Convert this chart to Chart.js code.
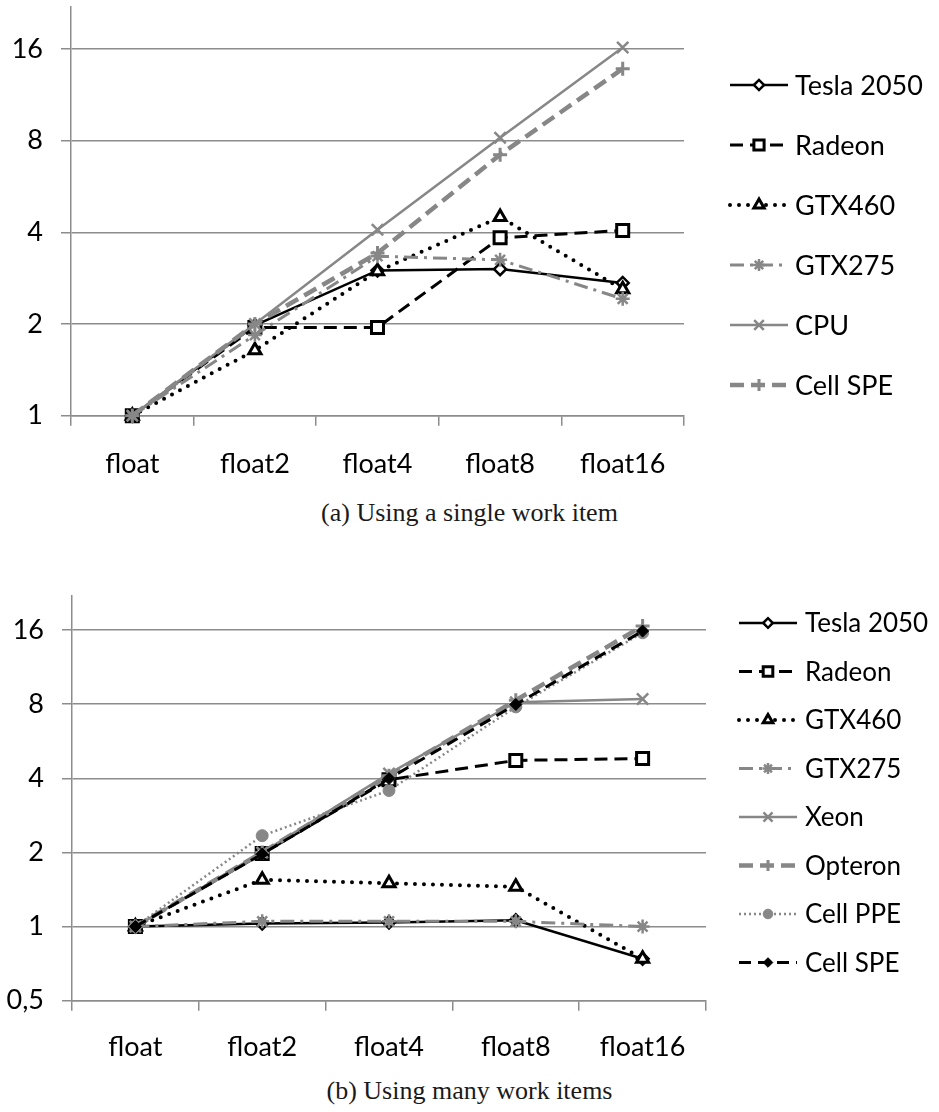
<!DOCTYPE html>
<html>
<head>
<meta charset="utf-8">
<script src="https://cdn.jsdelivr.net/npm/chart.js@4.4.1/dist/chart.umd.min.js"></script>
<style>
  html, body { margin: 0; padding: 0; background: #ffffff; }
  body { width: 939px; height: 1112px; position: relative; overflow: hidden; }
  canvas { position: absolute; left: 0; }
  #chartA { top: 0; }
  #chartB { top: 560px; }
  .caption {
    position: absolute; left: 0; width: 939px; text-align: center;
    font-family: "Liberation Serif", "DejaVu Serif", serif; font-size: 26px;
    color: #1a1a1a; line-height: 30px;
  }
  #capA { top: 498px; }
  #capB { top: 1076px; }
</style>
</head>
<body>
<canvas id="chartA" width="939" height="490"></canvas>
<div class="caption" id="capA">(a) Using a single work item</div>
<canvas id="chartB" width="939" height="510"></canvas>
<div class="caption" id="capB">(b) Using many work items</div>
<script>
// Vector widths on the x axis
const categories = ['float', 'float2', 'float4', 'float8', 'float16'];

// (a) speedup with a single work item
const seriesA = ['Tesla 2050', 'Radeon', 'GTX460', 'GTX275', 'CPU', 'Cell SPE'];
const teslaA   = [1, 1.98, 3.00, 3.03, 2.73];
const radeonA  = [1, 1.95, 1.95, 3.84, 4.06];
const gtx460A  = [1, 1.64, 2.98, 4.49, 2.60];
const gtx275A  = [1, 1.84, 3.34, 3.25, 2.42];
const cpuA     = [1, 2.00, 4.08, 8.18, 16.2];
const cellSpeA = [1, 2.00, 3.42, 7.20, 13.8];

// (b) speedup with many work items
const seriesB = ['Tesla 2050', 'Radeon', 'GTX460', 'GTX275', 'Xeon', 'Opteron', 'Cell PPE', 'Cell SPE'];
const teslaB   = [1, 1.03, 1.04, 1.06, 0.74];
const radeonB  = [1, 1.98, 3.95, 4.73, 4.81];
const gtx460B  = [1, 1.55, 1.50, 1.45, 0.74];
const gtx275B  = [1, 1.05, 1.05, 1.05, 1.00];
const xeonB    = [1, 2.00, 4.18, 8.15, 8.40];
const opteronB = [1, 2.00, 4.10, 8.30, 16.6];
const cellPpeB = [1, 2.34, 3.57, 7.80, 15.6];
const cellSpeB = [1, 1.97, 3.99, 7.98, 15.85];

// Log2 axis ticks
const ticksA = [1, 2, 4, 8, 16];
const tickLabelsA = ['1', '2', '4', '8', '16'];
const ticksB = [0.5, 1, 2, 4, 8, 16];
const tickLabelsB = ['0,5', '1', '2', '4', '8', '16'];

const BLACK = '#000000';
const GRAY = '#878787';
const GRID = '#8c8c8c';
const FONT = 'Lato, "Open Sans", sans-serif';

// Line / marker look per series
const styles = {
  'Tesla 2050': { color: BLACK, width: 2.5, dash: [], cap: 'butt', point: 'rectRot', r: 6, pbw: 2.5, fill: '#ffffff', pcolor: BLACK },
  'Radeon':     { color: BLACK, width: 3, dash: [13, 7], cap: 'butt', point: 'rect', r: 8.5, pbw: 3, fill: '#ffffff', pcolor: BLACK },
  'GTX460':     { color: BLACK, width: 4, dash: [0, 9], cap: 'round', point: 'triangle', r: 7, pbw: 3, fill: '#ffffff', pcolor: BLACK },
  'GTX275':     { color: GRAY, width: 3, dash: [14, 6, 3, 6], cap: 'butt', point: 'star', r: 7, pbw: 2.5, fill: GRAY, pcolor: GRAY },
  'CPU':        { color: GRAY, width: 2.5, dash: [], cap: 'butt', point: 'crossRot', r: 8, pbw: 2.5, fill: GRAY, pcolor: GRAY },
  'Xeon':       { color: GRAY, width: 2.5, dash: [], cap: 'butt', point: 'crossRot', r: 8, pbw: 2.5, fill: GRAY, pcolor: GRAY },
  'Opteron':    { color: GRAY, width: 4.5, dash: [14, 7], cap: 'butt', point: 'cross', r: 7, pbw: 3, fill: GRAY, pcolor: GRAY },
  'Cell SPE a': { color: GRAY, width: 4.5, dash: [14, 7], cap: 'butt', point: 'cross', r: 7, pbw: 3, fill: GRAY, pcolor: GRAY },
  'Cell PPE':   { color: GRAY, width: 2.5, dash: [2, 3], cap: 'butt', point: 'circle', r: 6, pbw: 1, fill: GRAY, pcolor: GRAY },
  'Cell SPE b': { color: BLACK, width: 3, dash: [12, 7], cap: 'butt', point: 'rectRot', r: 6, pbw: 1, fill: BLACK, pcolor: BLACK }
};

function makeDataset(label, data, styleKey, idx, count) {
  const s = styles[styleKey];
  return {
    label: label,
    data: data,
    borderColor: s.color,
    borderWidth: s.width,
    borderDash: s.dash,
    borderCapStyle: s.cap,
    tension: 0,
    fill: false,
    pointStyle: s.point,
    pointRadius: s.r,
    pointBorderWidth: s.pbw,
    pointBorderColor: s.pcolor,
    pointBackgroundColor: s.fill,
    order: count - idx,
    clip: false
  };
}

// Legend drawn beside the plot: line sample with its marker, then the name
function legendPlugin(cfg) {
  return {
    id: 'sideLegend',
    afterDraw(chart) {
      const ctx = chart.ctx;
      chart.data.datasets.forEach((ds, i) => {
        const y = cfg.top + i * cfg.step;
        ctx.save();
        ctx.strokeStyle = ds.borderColor;
        ctx.lineWidth = ds.borderWidth;
        ctx.lineCap = ds.borderCapStyle;
        ctx.setLineDash(ds.borderDash);
        ctx.beginPath();
        ctx.moveTo(cfg.x0, y);
        ctx.lineTo(cfg.x1, y);
        ctx.stroke();
        ctx.setLineDash([]);
        if (Chart.helpers && Chart.helpers.drawPoint) {
          ctx.strokeStyle = ds.pointBorderColor;
          ctx.fillStyle = ds.pointBackgroundColor;
          ctx.lineWidth = ds.pointBorderWidth;
          ctx.lineCap = 'butt';
          Chart.helpers.drawPoint(ctx, {
            pointStyle: ds.pointStyle,
            radius: ds.pointRadius * cfg.markScale,
            rotation: 0,
            borderWidth: ds.pointBorderWidth
          }, (cfg.x0 + cfg.x1) / 2, y);
        }
        ctx.fillStyle = '#000000';
        ctx.font = cfg.fontSize + 'px ' + FONT;
        ctx.textBaseline = 'middle';
        ctx.textAlign = 'left';
        ctx.fillText(ds.label, cfg.tx, y + 1);
        ctx.restore();
      });
    }
  };
}

function buildChart(canvasId, datasets, ticks, tickLabels, yMin, geo, legendCfg) {
  return new Chart(document.getElementById(canvasId), {
    type: 'line',
    data: { labels: categories, datasets: datasets },
    options: {
      responsive: false,
      animation: false,
      events: [],
      layout: { autoPadding: false, padding: { left: 0, right: geo.right, top: geo.top, bottom: 0 } },
      plugins: { legend: { display: false }, tooltip: { enabled: false } },
      scales: {
        x: {
          type: 'category',
          offset: true,
          grid: { offset: true, drawOnChartArea: false, drawTicks: true, tickLength: 10, color: GRID, lineWidth: 1.5 },
          border: { color: GRID, width: 1.5 },
          ticks: { color: '#000000', font: { family: FONT, size: 27 }, padding: geo.xPad, maxRotation: 0, autoSkip: false },
          afterFit(scale) {
            scale.height = geo.xHeight;
            scale.paddingLeft = 0;
            scale.paddingRight = 0;
          }
        },
        y: {
          type: 'logarithmic',
          min: yMin,
          max: 22,
          grid: { color: GRID, lineWidth: 1.5, tickLength: 10 },
          border: { color: GRID, width: 1.5 },
          ticks: {
            color: '#000000',
            font: { family: FONT, size: 27 },
            padding: 18,
            autoSkip: false,
            callback: (v, i) => tickLabels[i]
          },
          afterBuildTicks(scale) { scale.ticks = ticks.map(v => ({ value: v })); },
          afterFit(scale) {
            scale.width = geo.left;
            scale.paddingTop = 0;
            scale.paddingBottom = 0;
          }
        }
      }
    },
    plugins: [legendPlugin(legendCfg)]
  });
}

function draw() {
  const dsA = [
    makeDataset(seriesA[0], teslaA, 'Tesla 2050', 0, 6),
    makeDataset(seriesA[1], radeonA, 'Radeon', 1, 6),
    makeDataset(seriesA[2], gtx460A, 'GTX460', 2, 6),
    makeDataset(seriesA[3], gtx275A, 'GTX275', 3, 6),
    makeDataset(seriesA[4], cpuA, 'CPU', 4, 6),
    makeDataset(seriesA[5], cellSpeA, 'Cell SPE a', 5, 6)
  ];
  buildChart('chartA', dsA, ticksA, tickLabelsA, 1,
    { left: 71, right: 255, top: 7, xHeight: 74.3, xPad: 22 },
    { x0: 730, x1: 788, tx: 795, top: 85, step: 60, fontSize: 27, markScale: 0.85 });

  const dsB = [
    makeDataset(seriesB[0], teslaB, 'Tesla 2050', 0, 8),
    makeDataset(seriesB[1], radeonB, 'Radeon', 1, 8),
    makeDataset(seriesB[2], gtx460B, 'GTX460', 2, 8),
    makeDataset(seriesB[3], gtx275B, 'GTX275', 3, 8),
    makeDataset(seriesB[4], xeonB, 'Xeon', 4, 8),
    makeDataset(seriesB[5], opteronB, 'Opteron', 5, 8),
    makeDataset(seriesB[6], cellPpeB, 'Cell PPE', 6, 8),
    makeDataset(seriesB[7], cellSpeB, 'Cell SPE b', 7, 8)
  ];
  buildChart('chartB', dsB, ticksB, tickLabelsB, 0.5,
    { left: 72, right: 233, top: 36, xHeight: 69.3, xPad: 20 },
    { x0: 739, x1: 797, tx: 805, top: 63, step: 48.5, fontSize: 26, markScale: 0.8 });
}

if (document.fonts && document.fonts.load) {
  Promise.all([document.fonts.load('27px Lato'), document.fonts.load('26px "Liberation Serif"')])
    .then(draw, draw);
} else {
  draw();
}
</script>
</body>
</html>
